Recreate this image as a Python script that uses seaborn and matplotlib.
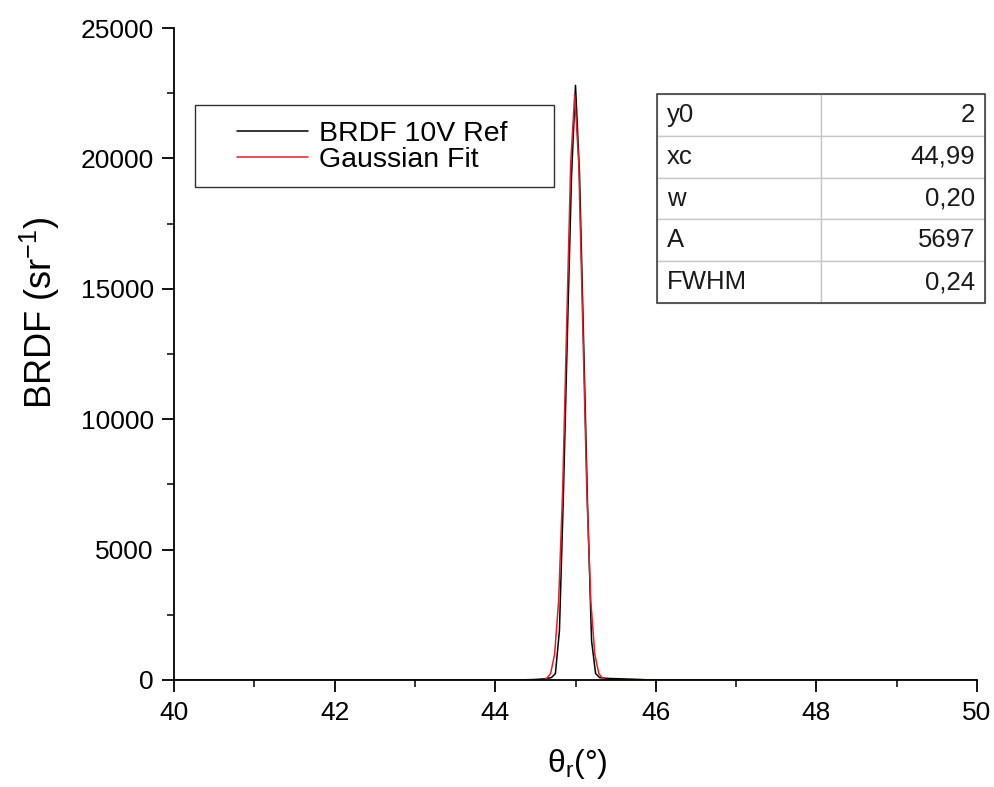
import numpy as np
import pandas as pd
import matplotlib
matplotlib.use('Agg')
import matplotlib.pyplot as plt
import seaborn as sns
from matplotlib.patches import Rectangle
from matplotlib.ticker import MultipleLocator

theta_ref = [40.0, 44.3, 44.5, 44.6, 44.7, 44.75, 44.8, 44.85, 44.9, 44.95, 45.0,
             45.05, 45.1, 45.15, 45.2, 45.25, 45.3, 45.4, 45.6, 45.8, 45.9, 46.0, 50.0]
brdf_ref = [0, 0, 20, 40, 90, 250, 1900, 7200, 13400, 19300, 22800,
            19400, 13100, 6700, 1500, 250, 90, 60, 40, 20, 5, 0, 0]

# gaussian fit curve
theta_fit = [40.0, 44.5, 44.59, 44.64, 44.69, 44.74, 44.79, 44.84, 44.89, 44.94, 44.99,
             45.04, 45.09, 45.14, 45.19, 45.24, 45.29, 45.34, 45.39, 45.5, 50.0]
brdf_fit = [2, 2, 10, 52, 250, 990, 3040, 7290, 13620, 19820, 22450,
            19820, 13620, 7290, 3040, 990, 250, 52, 10, 2, 2]

# fit parameters
param_names = ['y0', 'xc', 'w', 'A', 'FWHM']
param_values = ['2', '44,99', '0,20', '5697', '0,24']

sns.set_style('ticks')
plt.rcParams['font.family'] = ['Liberation Sans', 'DejaVu Sans']
plt.rcParams['mathtext.fontset'] = 'custom'
plt.rcParams['mathtext.rm'] = 'Liberation Sans'
plt.rcParams['mathtext.it'] = 'Liberation Sans'
plt.rcParams['text.color'] = 'black'
plt.rcParams['axes.labelcolor'] = 'black'

df_ref = pd.DataFrame({'theta': theta_ref, 'brdf': brdf_ref})
df_fit = pd.DataFrame({'theta': theta_fit, 'brdf': brdf_fit})

fig = plt.figure(figsize=(9.95, 7.87), dpi=100)
ax = fig.add_axes([0.1749, 0.136, 0.807, 0.8284])

sns.lineplot(data=df_ref, x='theta', y='brdf', ax=ax, color='black', lw=1.1,
             label='BRDF 10V Ref')
sns.lineplot(data=df_fit, x='theta', y='brdf', ax=ax, color='#e0202a', lw=1.1,
             label='Gaussian Fit')

ax.set_xlim(40, 50)
ax.set_ylim(0, 25000)
ax.xaxis.set_major_locator(MultipleLocator(2))
ax.xaxis.set_minor_locator(MultipleLocator(1))
ax.yaxis.set_major_locator(MultipleLocator(5000))
ax.yaxis.set_minor_locator(MultipleLocator(2500))
ax.tick_params(which='major', direction='out', length=8.5, width=1.3, labelsize=19,
               colors='black')
ax.tick_params(axis='x', which='major', pad=7)
ax.tick_params(axis='y', which='major', pad=6)
ax.tick_params(which='minor', direction='out', length=5, width=1.3)
for s in ['left', 'bottom']:
    ax.spines[s].set_linewidth(1.3)
    ax.spines[s].set_color('black')
sns.despine(ax=ax)

ax.set_xlabel(r'θ$_\mathregular{r}$(°)', fontsize=23)
ax.xaxis.set_label_coords(0.502, -0.103)
ax.set_ylabel(r'BRDF (sr$^\mathregular{-1}$)', fontsize=26)
ax.yaxis.set_label_coords(-0.139, 0.563)

# legend: frame drawn separately so the padding can match
ax.add_patch(Rectangle((0.0262, 0.756), 0.447, 0.126, transform=ax.transAxes,
                       facecolor='white', edgecolor='#303030', lw=1.0, zorder=4))
leg = ax.legend(loc='center left', bbox_to_anchor=(0.0785, 0.818), borderaxespad=0,
                borderpad=0, fontsize=20.5, frameon=False, handlelength=2.5,
                handletextpad=0.38, labelspacing=0.0)
leg.set_zorder(6)

# parameter table
tx0, tx1, ty0, ty1 = 0.6015, 1.010, 0.578, 0.899
tab = ax.table(cellText=[[n, v] for n, v in zip(param_names, param_values)],
               bbox=[tx0, ty0, tx1 - tx0, ty1 - ty0], colWidths=[0.5, 0.5])
tab.auto_set_font_size(False)
for (r, c), cell in tab.get_celld().items():
    cell.set_edgecolor('#c8c8c8')
    cell.set_linewidth(1.0)
    cell.get_text().set_fontsize(18.5)
    cell.get_text().set_color('#1a1a1a')
    cell.get_text().set_ha('left' if c == 0 else 'right')
    cell.PAD = 0.06
ax.add_patch(Rectangle((tx0, ty0), tx1 - tx0, ty1 - ty0, transform=ax.transAxes,
                       fill=False, edgecolor='#404040', lw=1.2, clip_on=False, zorder=5))

fig.savefig('out.png', dpi=100)
